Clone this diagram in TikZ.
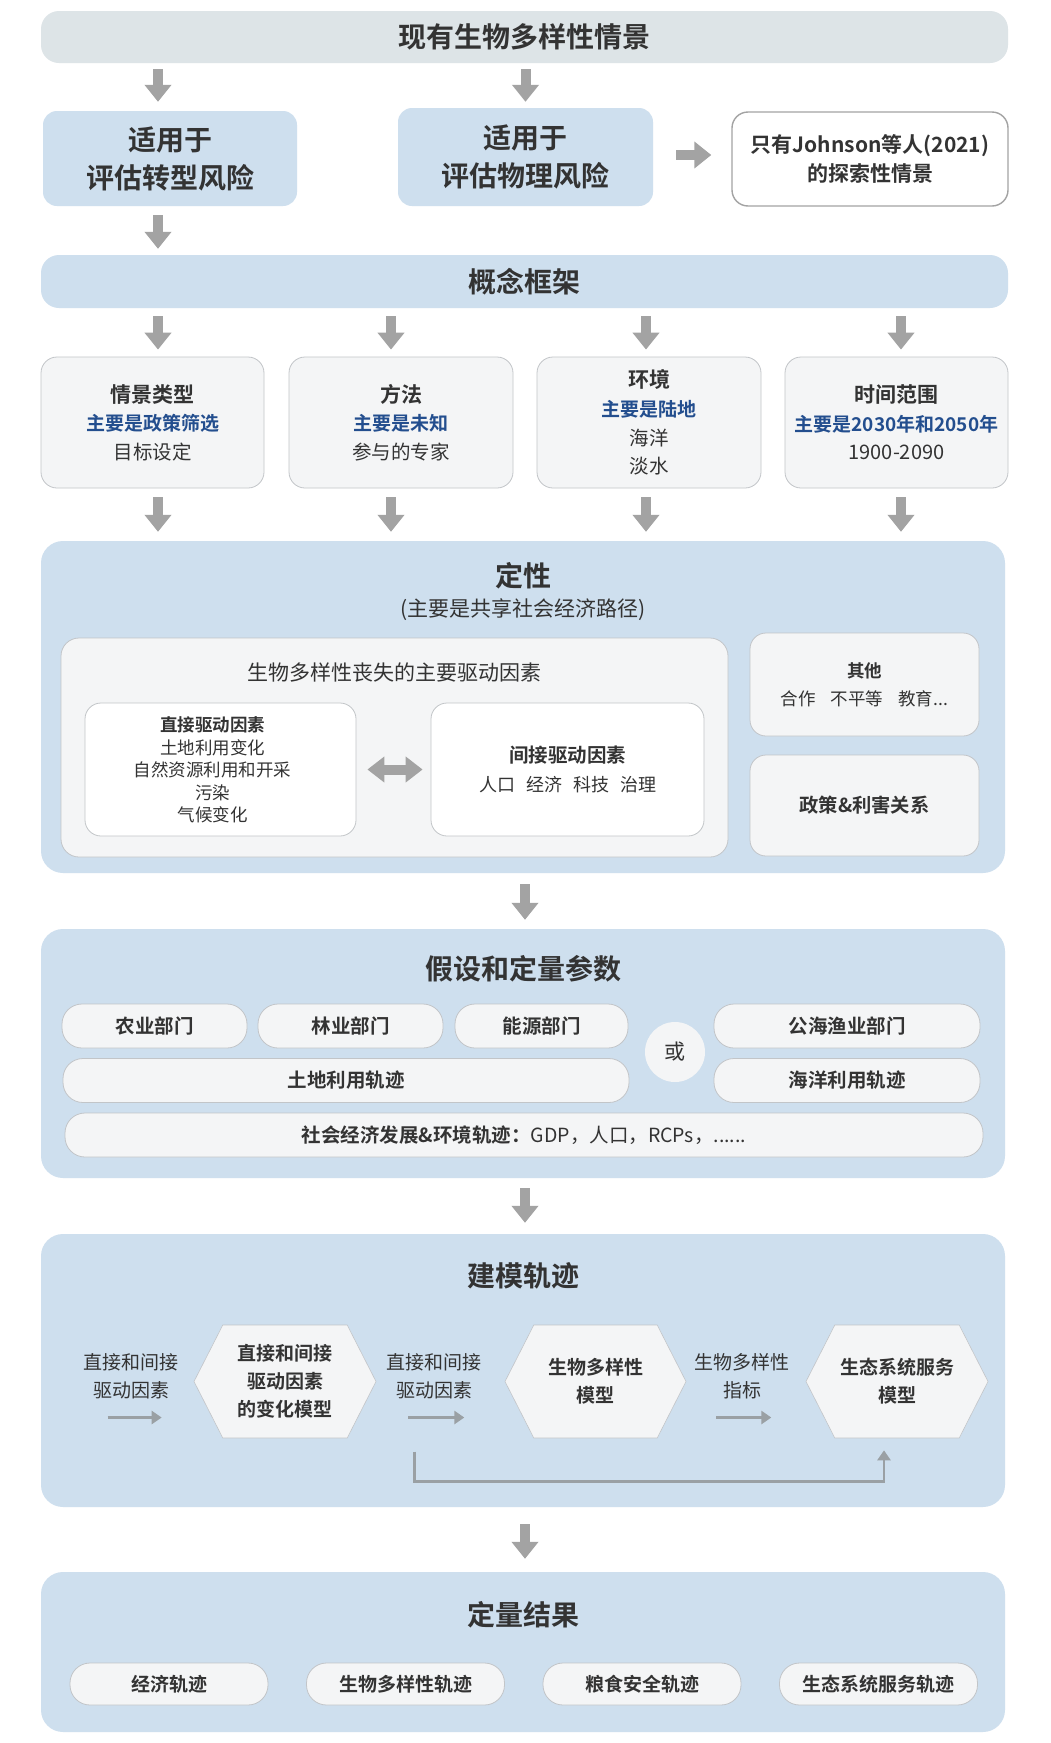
\documentclass[tikz,border=0pt]{standalone}
\usepackage{fontspec}
\setmainfont{Noto Sans CJK SC}[BoldFont={Noto Sans CJK SC Bold}]
\usepackage{tikz}
\usetikzlibrary{arrows.meta,calc,positioning,shapes.symbols}
\definecolor{PanelBlue}{HTML}{CEDFEE}
\definecolor{BarGray}{HTML}{DDE4E7}
\definecolor{CardFill}{HTML}{F4F5F6}
\definecolor{CardLine}{HTML}{C2C5C8}
\definecolor{ArrowGray}{HTML}{A3A3A3}
\definecolor{LineGray}{HTML}{9AA0A4}
\definecolor{Ink}{HTML}{333333}
\definecolor{KeyBlue}{HTML}{234E8E}

\begin{document}
\begin{tikzpicture}[x=1pt,y=-1pt,
    every node/.style={text=Ink,align=center,inner sep=0pt},
    bar/.style={rounded corners=18pt,minimum width=967pt,minimum height=52pt,font=\fontsize{28}{32}\selectfont\bfseries},
    panel/.style={fill=PanelBlue,rounded corners=22pt,minimum width=964pt},
    ptitle/.style={font=\fontsize{28}{32}\selectfont\bfseries},
    card/.style={draw=CardLine,line width=0.8pt,fill=CardFill,rounded corners=16pt},
    pill/.style={draw=CardLine,line width=0.8pt,fill=CardFill,rounded corners=20pt,minimum height=44pt,font=\fontsize{19.5}{22}\selectfont\bfseries},
    hexa/.style={draw=CardLine,line width=0.6pt,fill=CardFill,shape=signal,signal to=west and east,signal pointer angle=126,minimum width=182pt,minimum height=113pt,font=\fontsize{19}{28}\selectfont\bfseries},
    bigarr/.style={draw=ArrowGray,line width=10pt,-{Triangle[width=26pt,length=17pt]}},
    thinarr/.style={draw=LineGray,line width=2.6pt,-{Triangle[width=13pt,length=10pt]}},
    cardtop/.style={font=\fontsize{21}{28.5}\selectfont\bfseries}]
    \fill[white] (0,0) rectangle (1051,1743);
    \useasboundingbox (0,0) rectangle (1051,1743);

    \node[bar,fill=BarGray] (top) at (524.5,37) {现有生物多样性情景};

    \node[fill=PanelBlue,rounded corners=14pt,minimum width=254pt,minimum height=95pt,font=\fontsize{28}{38}\selectfont\bfseries] (tr) at (170,158.5)
      {适用于\\评估转型风险};
    \node[fill=PanelBlue,rounded corners=14pt,minimum width=255pt,minimum height=98pt,font=\fontsize{28}{38}\selectfont\bfseries] (ph) at (525.5,157)
      {适用于\\评估物理风险};
    \node[draw=ArrowGray,line width=1.4pt,fill=white,rounded corners=16pt,minimum width=276pt,minimum height=94pt,font=\fontsize{21}{29}\selectfont\bfseries] (jo) at (870,159)
      {只有Johnson等人(2021)\\的探索性情景};

    \draw[bigarr] ([xshift=-12pt,yshift=-6pt]top.south -| tr.north) -- ([xshift=-12pt,yshift=9pt]tr.north);
    \draw[bigarr] ([yshift=-6pt]top.south -| ph.north) -- ([yshift=6pt]ph.north);
    \draw[bigarr] ([xshift=23pt,yshift=2pt]ph.east) -- ([xshift=-20pt,yshift=2pt]jo.west |- ph.east);

    \node[bar,fill=PanelBlue,minimum height=53pt] (cf) at (524.5,281.5) {概念框架};
    \draw[bigarr] ([xshift=-12pt,yshift=-9pt]tr.south) -- ([xshift=-12pt,yshift=6pt]tr.south |- cf.north);

    \node[card,minimum width=223pt,minimum height=131pt,font=\fontsize{19.5}{28.5}\selectfont] (c1) at (152.5,422.5)
      {{\fontsize{21}{28.5}\selectfont\bfseries 情景类型}\\{\fontsize{19}{28.5}\selectfont\bfseries\color{KeyBlue}主要是政策筛选}\\目标设定};
    \node[card,minimum width=224pt,minimum height=131pt,font=\fontsize{19.5}{28.5}\selectfont] (c2) at (401,422.5)
      {{\fontsize{21}{28.5}\selectfont\bfseries 方法}\\{\fontsize{19}{28.5}\selectfont\bfseries\color{KeyBlue}主要是未知}\\参与的专家};
    \node[card,minimum width=224pt,minimum height=131pt,font=\fontsize{19.5}{28.7}\selectfont] (c3) at (649,422.5)
      {{\fontsize{21}{28.7}\selectfont\bfseries 环境}\\{\fontsize{19}{28.7}\selectfont\bfseries\color{KeyBlue}主要是陆地}\\海洋\\淡水};
    \node[card,minimum width=223pt,minimum height=131pt,font=\fontsize{20}{28.5}\selectfont] (c4) at (896.5,422.5)
      {{\fontsize{21}{28.5}\selectfont\bfseries 时间范围}\\{\fontsize{19}{28.5}\selectfont\bfseries\color{KeyBlue}主要是2030年和2050年}\\1900-2090};

    \node[panel,minimum height=332pt] (qual) at (523,707) {};
    \node[ptitle] (qualt) at (523,576) {定性};
    \node[font=\fontsize{21}{24}\selectfont] (quals) at (523,610) {(主要是共享社会经济路径)};

    \foreach \c/\dx in {c1/5.5,c2/-10,c3/-3,c4/4.5}{
      \draw[bigarr] ([xshift=\dx pt,yshift=-8pt]cf.south -| \c.north) -- ([xshift=\dx pt,yshift=7pt]\c.north);
      \draw[bigarr] ([xshift=\dx pt,yshift=-9pt]\c.south) -- ([xshift=\dx pt,yshift=9pt]\c.south |- qual.north);
    }

    \node[card,rounded corners=18pt,minimum width=667pt,minimum height=219pt] (drv) at (394.5,747.5) {};
    \node[font=\fontsize{21}{24}\selectfont] (drvt) at (394.5,672) {生物多样性丧失的主要驱动因素};
    \node[card,fill=white,minimum width=271pt,minimum height=133pt] (dir) at (220.5,769.5) {};
    \node[font=\fontsize{17.5}{22.6}\selectfont] (dirt) at (212.5,770)
      {\textbf{直接驱动因素}\\土地利用变化\\自然资源利用和开采\\污染\\气候变化};
    \node[card,fill=white,minimum width=273pt,minimum height=133pt,font=\fontsize{18}{22}\selectfont] (ind) at (567.5,769.5)
      {{\fontsize{19.5}{22}\selectfont\bfseries 间接驱动因素}\\[7pt]人口\hspace{11pt}经济\hspace{11pt}科技\hspace{11pt}治理};
    \draw[draw=ArrowGray,line width=10pt,{Triangle[width=25pt,length=17pt]}-{Triangle[width=25pt,length=17pt]}] ([xshift=11pt]dir.east) -- ([xshift=-8pt]ind.west);
    \node[card,minimum width=229pt,minimum height=103pt,font=\fontsize{17.5}{28}\selectfont] (oth) at (864.5,684.5)
      {\textbf{其他}\\合作\hspace{15pt}不平等\hspace{15pt}教育...};
    \node[card,minimum width=229pt,minimum height=101pt,font=\fontsize{19.3}{22}\selectfont\bfseries] (pol) at (864.5,805.5)
      {政策\&利害关系};

    \node[panel,minimum height=249pt] (asm) at (523,1053.5) {};
    \draw[bigarr] ([xshift=2pt,yshift=-11pt]qual.south) -- ([xshift=2pt,yshift=9pt]asm.north);
    \node[ptitle] (asmt) at (523,969) {假设和定量参数};
    \node[pill,minimum width=185pt] (agr) at (154.5,1026) {农业部门};
    \node[pill,minimum width=185pt] (frs) at (350.5,1026) {林业部门};
    \node[pill,minimum width=173pt] (ene) at (541.5,1026) {能源部门};
    \node[pill,minimum width=266pt] (fsh) at (847,1026) {公海渔业部门};
    \node[pill,minimum width=566pt] (lnd) at (346,1080.5) {土地利用轨迹};
    \node[pill,minimum width=266pt] (ocn) at (847,1080.5) {海洋利用轨迹};
    \node[pill,minimum width=918pt,font=\fontsize{19.5}{22}\selectfont] (soc) at (524,1135)
      {\textbf{社会经济发展\&环境轨迹：}GDP，人口，RCPs，......};
    \node[circle,fill=CardFill,minimum size=60pt,font=\fontsize{21}{24}\selectfont] (orr) at (675,1052) {或};

    \node[panel,minimum height=273pt] (mdl) at (523,1370.5) {};
    \draw[bigarr] ([xshift=2pt,yshift=-10pt]asm.south) -- ([xshift=2pt,yshift=11pt]mdl.north);
    \node[ptitle] (mdlt) at (523,1276) {建模轨迹};
    \node[hexa] (h1) at (285,1381.5) {直接和间接\\驱动因素\\的变化模型};
    \node[hexa,minimum width=181pt] (h2) at (595.5,1381.5) {生物多样性\\模型};
    \node[hexa] (h3) at (897,1381.5) {生态系统服务\\模型};
    \node[font=\fontsize{19}{28}\selectfont] (l1) at (131,1376) {直接和间接\\驱动因素};
    \node[font=\fontsize{19}{28}\selectfont] (l2) at (434,1376) {直接和间接\\驱动因素};
    \node[font=\fontsize{19}{28}\selectfont] (l3) at (742,1376) {生物多样性\\指标};
    \draw[thinarr] ([shift={(-86,36)}]h1.west) -- ([shift={(-32,36)}]h1.west);
    \draw[thinarr] ([shift={(32,36)}]h1.east) -- ([shift={(88,36)}]h1.east);
    \draw[thinarr] ([shift={(30,36)}]h2.east) -- ([shift={(85,36)}]h2.east);
    \coordinate (fbs) at ([shift={(38,70)}]h1.east);
    \draw[thinarr] (fbs) |- ([shift={(-13,43)}]h3.south) -- ([shift={(-13,12)}]h3.south);

    \node[panel,minimum height=160pt] (res) at (523,1652) {};
    \draw[bigarr] ([xshift=2pt,yshift=-17pt]mdl.south) -- ([xshift=2pt,yshift=13pt]res.north);
    \node[ptitle] (rest) at (523,1615) {定量结果};
    \node[pill,minimum width=198pt,minimum height=42pt,font=\fontsize{19}{22}\selectfont\bfseries] (r1) at (169,1684) {经济轨迹};
    \node[pill,minimum width=198pt,minimum height=42pt,font=\fontsize{19}{22}\selectfont\bfseries] (r2) at (405.5,1684) {生物多样性轨迹};
    \node[pill,minimum width=198pt,minimum height=42pt,font=\fontsize{19}{22}\selectfont\bfseries] (r3) at (642,1684) {粮食安全轨迹};
    \node[pill,minimum width=198pt,minimum height=42pt,font=\fontsize{19}{22}\selectfont\bfseries] (r4) at (878.5,1684) {生态系统服务轨迹};
  \end{tikzpicture}
\end{document}
